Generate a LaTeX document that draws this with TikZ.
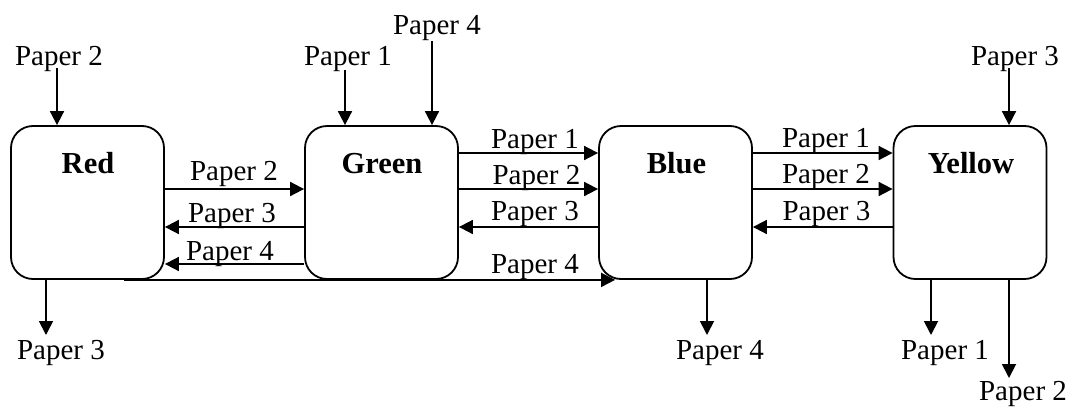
\documentclass[tikz,border=0pt]{standalone}
\usepackage{fontspec}
\setmainfont{Liberation Serif}
\usetikzlibrary{arrows.meta,calc}
\begin{document}
\begin{tikzpicture}[x=1pt,y=-1pt,
  box/.style={draw, line width=1.8pt, rounded corners=22pt, minimum width=153pt, minimum height=153pt, inner sep=0pt},
  ttl/.style={anchor=base, inner sep=0pt, font=\fontsize{30.5}{34}\selectfont\bfseries},
  lbl/.style={anchor=base, inner sep=0pt, font=\fontsize{29}{34}\selectfont},
  arr/.style={line width=1.8pt, -{Triangle[length=14pt,width=14pt]}}]
\useasboundingbox (0,0) rectangle (1070,407);
% boxes
\node[box] (red) at (87.5,202.5) {};
\node[box] (green) at (381.5,202.5) {};
\node[box] (blue) at (675.5,202.5) {};
\node[box] (yellow) at (970,202.5) {};
\node[ttl] (redT) at (88,173) {Red};
\node[ttl] (greenT) at (382,173) {Green};
\node[ttl] (blueT) at (676.5,173) {Blue};
\node[ttl] (yellowT) at (971,173) {Yellow};
% rows
\coordinate (r1) at (0,153);
\coordinate (r2) at (0,189);
\coordinate (r3) at (0,227);
\coordinate (r4) at (0,264);
% Red - Green
\draw[arr] (red.east |- r2) -- (green.west |- r2);
\draw[arr] (green.west |- r3) -- (red.east |- r3);
\draw[arr] (green.west |- r4) -- (red.east |- r4);
\node[lbl] (rg2) at (234,180) {Paper 2};
\node[lbl] (rg3) at (232,222) {Paper 3};
\node[lbl] (rg4) at (230,260) {Paper 4};
% Green - Blue
\draw[arr] (green.east |- r1) -- (blue.west |- r1);
\draw[arr] (green.east |- r2) -- (blue.west |- r2);
\draw[arr] (blue.west |- r3) -- (green.east |- r3);
\node[lbl] (gb1) at (535,148) {Paper 1};
\node[lbl] (gb2) at (536.5,184) {Paper 2};
\node[lbl] (gb3) at (535,220) {Paper 3};
% Blue - Yellow
\draw[arr] (blue.east |- r1) -- (yellow.west |- r1);
\draw[arr] (blue.east |- r2) -- (yellow.west |- r2);
\draw[arr] (yellow.west |- r3) -- (blue.east |- r3);
\node[lbl] (by1) at (826,147) {Paper 1};
\node[lbl] (by2) at (826,183) {Paper 2};
\node[lbl] (by3) at (826.5,220) {Paper 3};
% long Paper 4
\coordinate (p4s) at ($(red.south west)+(114,0)$);
\coordinate (p4e) at ($(blue.south west)+(17,0)$);
\draw[arr] (p4s) -- (p4e);
\node[lbl] (rb4) at (535,273) {Paper 4};
% inputs
\node[lbl] (inR) at (59,65) {Paper 2};
\draw[arr] ([xshift=-2pt,yshift=-3pt]inR.base) -- ([xshift=-2pt]inR.base |- red.north);
\node[lbl] (inG1) at (348,65) {Paper 1};
\draw[arr] ([xshift=-3pt,yshift=-5pt]inG1.base) -- ([xshift=-3pt]inG1.base |- green.north);
\node[lbl] (inG4) at (437,34) {Paper 4};
\draw[arr] ([xshift=-5pt,yshift=-7pt]inG4.base) -- ([xshift=-5pt]inG4.base |- green.north);
\node[lbl] (inY3) at (1015,65) {Paper 3};
\draw[arr] ([xshift=-6pt,yshift=-3pt]inY3.base) -- ([xshift=-6pt]inY3.base |- yellow.north);
% outputs
\node[lbl] (outR) at (61,359) {Paper 3};
\draw[arr] ([xshift=-15pt]outR.base |- red.south) -- ([xshift=-15pt,yshift=24pt]outR.base);
\node[lbl] (outB) at (720,359) {Paper 4};
\draw[arr] ([xshift=-13pt]outB.base |- blue.south) -- ([xshift=-13pt,yshift=24pt]outB.base);
\node[lbl] (outY1) at (945,359) {Paper 1};
\draw[arr] ([xshift=-14pt]outY1.base |- yellow.south) -- ([xshift=-14pt,yshift=24pt]outY1.base);
\node[lbl] (outY2) at (1023,400) {Paper 2};
\draw[arr] ([xshift=-14pt]outY2.base |- yellow.south) -- ([xshift=-14pt,yshift=22pt]outY2.base);
\end{tikzpicture}
\end{document}
